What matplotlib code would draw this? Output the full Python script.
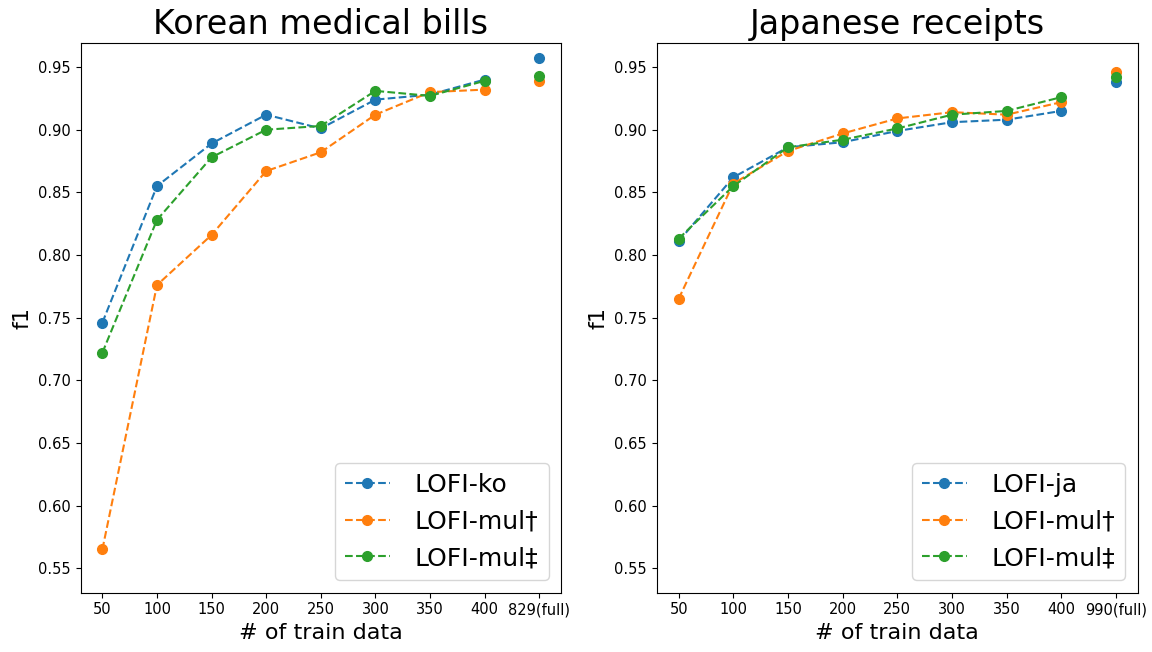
import matplotlib
matplotlib.use("Agg")
import matplotlib.pyplot as plt

train_sizes = ["50", "100", "150", "200", "250", "300", "350", "400"]
ko_full_label = "829(full)"
ja_full_label = "990(full)"

# Korean medical bills
ko_lofi_ko = [0.746, 0.855, 0.889, 0.912, 0.901, 0.924, 0.928, 0.940]
ko_lofi_mul1 = [0.565, 0.776, 0.816, 0.867, 0.882, 0.912, 0.930, 0.932]
ko_lofi_mul2 = [0.722, 0.828, 0.878, 0.900, 0.903, 0.931, 0.927, 0.939]
ko_full = [0.957, 0.939, 0.943]

# Japanese receipts
ja_lofi_ja = [0.811, 0.862, 0.886, 0.890, 0.899, 0.906, 0.908, 0.915]
ja_lofi_mul1 = [0.765, 0.857, 0.883, 0.897, 0.909, 0.914, 0.912, 0.922]
ja_lofi_mul2 = [0.813, 0.855, 0.886, 0.892, 0.901, 0.912, 0.915, 0.926]
ja_full = [0.938, 0.946, 0.942]

colors = ["#1f77b4", "#ff7f0e", "#2ca02c"]

fig = plt.figure(figsize=(11.52, 6.52), dpi=100)
ax1 = fig.add_axes([0.0699, 0.0910, 0.4171, 0.8438])
ax2 = fig.add_axes([0.5701, 0.0910, 0.4177, 0.8438])

panels = [
    (ax1, "Korean medical bills", ["LOFI-ko", "LOFI-mul†", "LOFI-mul‡"],
     [ko_lofi_ko, ko_lofi_mul1, ko_lofi_mul2], ko_full, ko_full_label),
    (ax2, "Japanese receipts", ["LOFI-ja", "LOFI-mul†", "LOFI-mul‡"],
     [ja_lofi_ja, ja_lofi_mul1, ja_lofi_mul2], ja_full, ja_full_label),
]

for ax, title, labels, series, full, full_label in panels:
    xs = list(range(len(train_sizes)))
    for lab, vals, c in zip(labels, series, colors):
        ax.plot(xs, vals, "--o", color=c, label=lab, markersize=7, linewidth=1.5)
    fx = len(train_sizes)
    for v, c in zip(full, colors):
        ax.plot([fx], [v], "o", color=c, markersize=7)
    ax.set_xticks(list(range(len(train_sizes) + 1)))
    ax.set_xticklabels(train_sizes + [full_label])
    ax.set_xlim(-0.4, 8.4)
    ax.set_ylim(0.5305, 0.9696)
    ax.set_yticks([0.55, 0.60, 0.65, 0.70, 0.75, 0.80, 0.85, 0.90, 0.95])
    ax.tick_params(labelsize=10.5)
    ax.set_title(title, fontsize=24)
    ax.set_xlabel("# of train data", fontsize=16)
    ax.set_ylabel("f1", fontsize=16)
    ax.legend(loc="lower right", fontsize=18, handlelength=1.8, handletextpad=1.0)

fig.savefig("out.png", dpi=100)
